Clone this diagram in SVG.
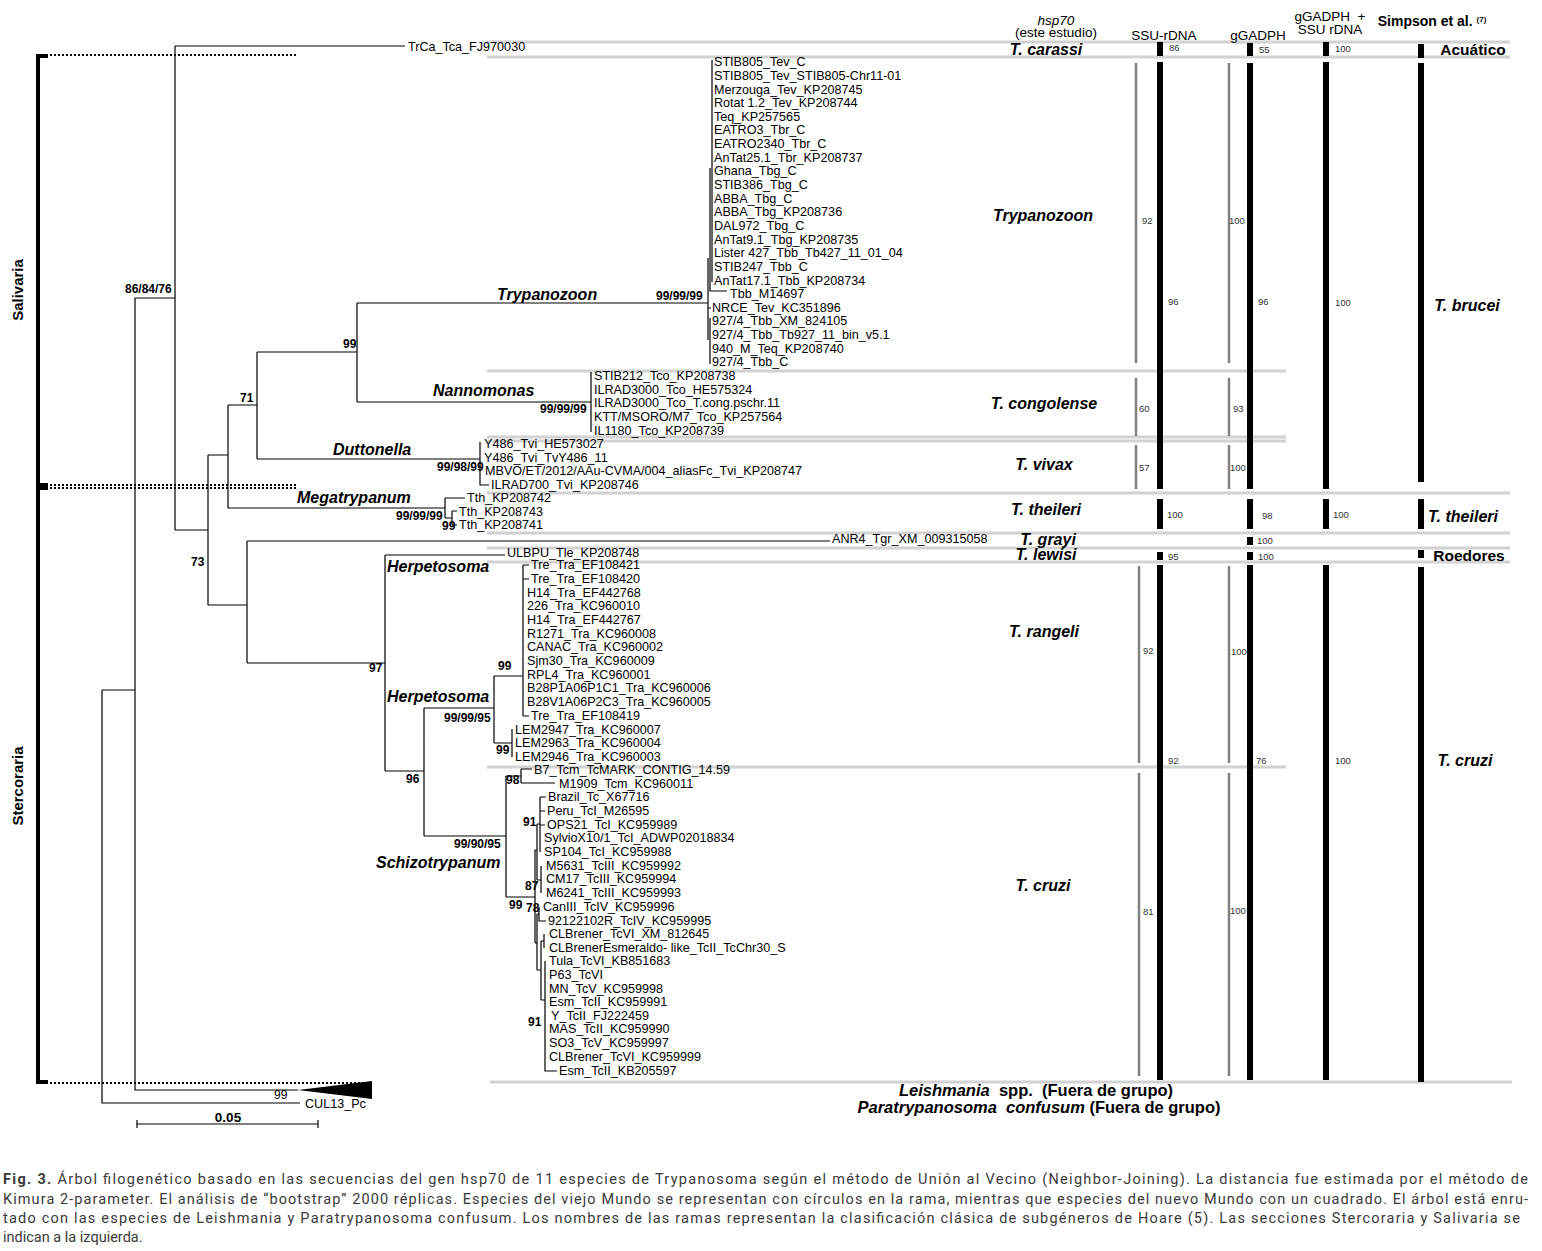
<svg xmlns="http://www.w3.org/2000/svg" width="1542" height="1251" viewBox="0 0 1542 1251">
<style>
.br{stroke:#000;stroke-width:1.2;fill:none}
.lf{font-family:"Liberation Sans",Arial,sans-serif;font-size:12.6px;fill:#000}
.bs{font-family:"Liberation Sans",Arial,sans-serif;font-size:12px;font-weight:bold;fill:#000}
.cl{font-family:"Liberation Sans",Arial,sans-serif;font-size:16px;font-weight:bold;font-style:italic;fill:#000}
.rc{font-family:"Liberation Sans",Arial,sans-serif;font-size:16px;font-weight:bold;font-style:italic;fill:#000;text-anchor:middle}
.sep{stroke:#d2d2d2;stroke-width:3}
.gb{stroke:#808080;stroke-width:2.5}
.kb{fill:#000}
.n{font-family:"Liberation Sans",Arial,sans-serif;font-size:9.5px;fill:#333}
.hd{font-family:"Liberation Sans",Arial,sans-serif;font-size:13.5px;fill:#000;text-anchor:middle}
.dot{stroke:#000;stroke-width:2;stroke-dasharray:2,2;fill:none}
.brk{stroke:#000;stroke-width:4;fill:none}
.sec{font-family:"Liberation Sans",Arial,sans-serif;font-size:15px;font-weight:bold;fill:#000;text-anchor:middle}
.cap{font-family:Roboto,"Liberation Sans",sans-serif;font-size:14.5px;fill:#3a3a3a}
</style>
<rect width="1542" height="1251" fill="#fff"/>

<g id="separators">
<line class="sep" x1="487" y1="42" x2="1510" y2="42"/>
<line class="sep" x1="487" y1="57" x2="1510" y2="57"/>
<line class="sep" x1="487" y1="371" x2="1286" y2="371"/>
<line class="sep" x1="487" y1="437" x2="1286" y2="437"/>
<line class="sep" x1="487" y1="441" x2="1286" y2="441"/>
<line class="sep" x1="487" y1="493" x2="1510" y2="493"/>
<line class="sep" x1="487" y1="533" x2="1510" y2="533"/>
<line class="sep" x1="487" y1="548" x2="1510" y2="548"/>
<line class="sep" x1="487" y1="562" x2="1510" y2="562"/>
<line class="sep" x1="487" y1="767" x2="1286" y2="767"/>
<line class="sep" x1="490" y1="1082" x2="1512" y2="1082"/>
</g>

<g id="sections">
<path class="brk" d="M48,56 H38 V485 H48"/>
<path class="brk" d="M48,488 H38 V1082 H48"/>
<path class="dot" d="M50,55 H298 M50,485 H298 M50,488 H298 M50,1083 H372"/>
<text class="sec" transform="translate(23,290) rotate(-90)">Salivaria</text>
<text class="sec" transform="translate(23,786) rotate(-90)">Stercoraria</text>
</g>

<g id="connectors" class="br">
<path d="M102,690 V1103 H300 M102,690 H135 M135,298 V1090 H298 M135,298 H175 M175,46 V530 M175,46 H405"/>
<path d="M175,530 H208 M208,455 V605 M208,455 H228 M228,405 V508 M228,405 H257 M228,508 H445"/>
<path d="M257,352 V459 M257,352 H357 M257,459 H480 M357,303 V402 M357,303 H708 M357,402 H591"/>
<path d="M708,258 V340 M712,60 V282 M710,168 V291 H727 M708,308 H711 M710,318 V364 M591,372 V432"/>
<path d="M480,442 V485 H489 M445,498 V518 M445,498 H465 M445,518 H452 M452,511 V525 M452,511 H457 M452,525 H457"/>
<path d="M208,605 H247 M247,541 V663 M247,541 H830 M247,663 H385 M385,555 V771 M385,555 H505 M385,771 H424"/>
<path d="M424,708 V836 M424,708 H494 M494,676 V743 M494,676 H523 M494,743 H512 M523,565 V716 M523,565 H529 M523,579 H529 M523,716 H529 M512,729 V757"/>
<path d="M424,836 H506 M506,776 V897 M506,776 H521 M521,769 V783 M521,769 H532 M521,783 H555 M506,897 H535"/>
<path d="M535,850 V943 M535,850 H537 M537,824 V880 M537,824 H540 M540,797 V852 M540,797 H546 M540,811 H545 M540,825 H545 M537,880 H541 M541,866 V893"/>
<path d="M535,943 H537 M537,914 V970 M537,914 H539 M539,907 V921 H546 M537,970 H541 M541,941 V1000 M541,941 H544 M544,934 V948 M541,1000 H545 M545,961 V1071 H557"/>
<path d="M137,1124 H318 M137,1120 V1128 M318,1120 V1128"/>
</g>

<g id="outgroup-leishmania">
<polygon points="298,1090 372,1081 372,1099" fill="#000"/>
<text class="bs" x="274" y="1099" style="font-weight:normal">99</text>
</g>
<g id="outgroup-paratrypanosoma">
<text class="lf" x="305" y="1108">CUL13_Pc</text>
</g>
<g id="scale">
<text class="bs" x="228" y="1122" text-anchor="middle" style="font-size:13.5px">0.05</text>
</g>

<g id="bootstrap" class="bs">
<text x="125" y="293">86/84/76</text>
<text x="343" y="348">99</text>
<text x="240" y="402">71</text>
<text x="191" y="566">73</text>
<text x="656" y="300">99/99/99</text>
<text x="540" y="413">99/99/99</text>
<text x="437" y="471">99/98/99</text>
<text x="396" y="520">99/99/99</text>
<text x="442" y="530">99</text>
<text x="369" y="672">97</text>
<text x="498" y="670">99</text>
<text x="444" y="722">99/99/95</text>
<text x="496" y="754">99</text>
<text x="406" y="783">96</text>
<text x="506" y="784">98</text>
<text x="454" y="848">99/90/95</text>
<text x="509" y="909">99</text>
<text x="523" y="826">91</text>
<text x="525" y="890">87</text>
<text x="526" y="912">78</text>
<text x="528" y="1026">91</text>
</g>

<g id="subgenera" class="cl">
<text x="497" y="300">Trypanozoon</text>
<text x="433" y="396">Nannomonas</text>
<text x="333" y="455">Duttonella</text>
<text x="297" y="503">Megatrypanum</text>
<text x="387" y="572">Herpetosoma</text>
<text x="387" y="702">Herpetosoma</text>
<text x="376" y="868">Schizotrypanum</text>
</g>

<g id="leaf-tca" class="lf"><text x="408" y="51">TrCa_Tca_FJ970030</text></g>

<g id="clade-trypanozoon" class="lf">
<text x="714" y="66">STIB805_Tev_C</text>
<text x="714" y="80">STIB805_Tev_STIB805-Chr11-01</text>
<text x="714" y="94">Merzouga_Tev_KP208745</text>
<text x="714" y="107">Rotat 1.2_Tev_KP208744</text>
<text x="714" y="121">Teq_KP257565</text>
<text x="714" y="134">EATRO3_Tbr_C</text>
<text x="714" y="148">EATRO2340_Tbr_C</text>
<text x="714" y="162">AnTat25.1_Tbr_KP208737</text>
<text x="714" y="175">Ghana_Tbg_C</text>
<text x="714" y="189">STIB386_Tbg_C</text>
<text x="714" y="203">ABBA_Tbg_C</text>
<text x="714" y="216">ABBA_Tbg_KP208736</text>
<text x="714" y="230">DAL972_Tbg_C</text>
<text x="714" y="244">AnTat9.1_Tbg_KP208735</text>
<text x="714" y="257">Lister 427_Tbb_Tb427_11_01_04</text>
<text x="714" y="271">STIB247_Tbb_C</text>
<text x="714" y="285">AnTat17.1_Tbb_KP208734</text>
<text x="730" y="298">Tbb_M14697</text>
<text x="712" y="312">NRCE_Tev_KC351896</text>
<text x="712" y="325">927/4_Tbb_XM_824105</text>
<text x="712" y="339">927/4_Tbb_Tb927_11_bin_v5.1</text>
<text x="712" y="353">940_M_Teq_KP208740</text>
<text x="712" y="366">927/4_Tbb_C</text>
</g>

<g id="clade-nannomonas" class="lf">
<text x="594" y="380">STIB212_Tco_KP208738</text>
<text x="594" y="394">ILRAD3000_Tco_HE575324</text>
<text x="594" y="407">ILRAD3000_Tco_T.cong.pschr.11</text>
<text x="594" y="421">KTT/MSORO/M7_Tco_KP257564</text>
<text x="594" y="435">IL1180_Tco_KP208739</text>
</g>

<g id="clade-duttonella" class="lf">
<text x="484" y="448">Y486_Tvi_HE573027</text>
<text x="484" y="462">Y486_Tvi_TvY486_11</text>
<text x="485" y="475">MBVO/ET/2012/AAu-CVMA/004_aliasFc_Tvi_KP208747</text>
<text x="491" y="489">ILRAD700_Tvi_KP208746</text>
</g>

<g id="clade-megatrypanum" class="lf">
<text x="467" y="502">Tth_KP208742</text>
<text x="459" y="516">Tth_KP208743</text>
<text x="459" y="529">Tth_KP208741</text>
</g>

<g id="leaf-tgr" class="lf"><text x="832" y="543">ANR4_Tgr_XM_009315058</text></g>
<g id="leaf-tle" class="lf"><text x="507" y="557">ULBPU_Tle_KP208748</text></g>

<g id="clade-rangeli" class="lf">
<text x="531" y="569">Tre_Tra_EF108421</text>
<text x="531" y="583">Tre_Tra_EF108420</text>
<text x="527" y="597">H14_Tra_EF442768</text>
<text x="527" y="610">226_Tra_KC960010</text>
<text x="527" y="624">H14_Tra_EF442767</text>
<text x="527" y="638">R1271_Tra_KC960008</text>
<text x="527" y="651">CANAC_Tra_KC960002</text>
<text x="527" y="665">Sjm30_Tra_KC960009</text>
<text x="527" y="679">RPL4_Tra_KC960001</text>
<text x="527" y="692">B28P1A06P1C1_Tra_KC960006</text>
<text x="527" y="706">B28V1A06P2C3_Tra_KC960005</text>
<text x="531" y="720">Tre_Tra_EF108419</text>
<text x="515" y="734">LEM2947_Tra_KC960007</text>
<text x="515" y="747">LEM2963_Tra_KC960004</text>
<text x="515" y="761">LEM2946_Tra_KC960003</text>
</g>

<g id="clade-cruzi" class="lf">
<text x="534" y="774">B7_Tcm_TcMARK_CONTIG_14.59</text>
<text x="559" y="788">M1909_Tcm_KC960011</text>
<text x="548" y="801">Brazil_Tc_X67716</text>
<text x="547" y="815">Peru_TcI_M26595</text>
<text x="547" y="829">OPS21_TcI_KC959989</text>
<text x="544" y="842">SylvioX10/1_TcI_ADWP02018834</text>
<text x="544" y="856">SP104_TcI_KC959988</text>
<text x="546" y="870">M5631_TcIII_KC959992</text>
<text x="546" y="883">CM17_TcIII_KC959994</text>
<text x="546" y="897">M6241_TcIII_KC959993</text>
<text x="543" y="911">CanIII_TcIV_KC959996</text>
<text x="548" y="925">92122102R_TcIV_KC959995</text>
<text x="549" y="938">CLBrener_TcVI_XM_812645</text>
<text x="549" y="952">CLBrenerEsmeraldo- like_TcII_TcChr30_S</text>
<text x="549" y="965">Tula_TcVI_KB851683</text>
<text x="549" y="979">P63_TcVI</text>
<text x="549" y="993">MN_TcV_KC959998</text>
<text x="549" y="1006">Esm_TcII_KC959991</text>
<text x="551" y="1020">Y_TcII_FJ222459</text>
<text x="549" y="1033">MAS_TcII_KC959990</text>
<text x="549" y="1047">SO3_TcV_KC959997</text>
<text x="549" y="1061">CLBrener_TcVI_KC959999</text>
<text x="559" y="1075">Esm_TcII_KB205597</text>
</g>

<g id="species-labels">
<text class="rc" x="1046" y="55">T. carassi</text>
<text class="rc" x="1043" y="221">Trypanozoon</text>
<text class="rc" x="1044" y="409">T. congolense</text>
<text class="rc" x="1044" y="470">T. vivax</text>
<text class="rc" x="1046" y="515">T. theileri</text>
<text class="rc" x="1048" y="545">T. grayi</text>
<text class="rc" x="1046" y="560">T. lewisi</text>
<text class="rc" x="1044" y="637">T. rangeli</text>
<text class="rc" x="1043" y="891">T. cruzi</text>
<text class="sec" x="1036" y="1096" style="font-size:16.5px" xml:space="preserve"><tspan font-style="italic">Leishmania</tspan>  spp.  (Fuera de grupo)</text>
<text class="sec" x="1039" y="1113" style="font-size:16.5px" xml:space="preserve"><tspan font-style="italic">Paratrypanosoma  confusum</tspan> (Fuera de grupo)</text>
</g>

<g id="headers">
<text class="hd" x="1056" y="25" font-style="italic">hsp70</text>
<text class="hd" x="1056" y="37">(este estudio)</text>
<text class="hd" x="1164" y="40">SSU-rDNA</text>
<text class="hd" x="1258" y="40">gGADPH</text>
<text class="hd" x="1330" y="21" xml:space="preserve">gGADPH  +</text>
<text class="hd" x="1330" y="34">SSU rDNA</text>
<text class="hd" x="1432" y="26" style="font-weight:bold;font-size:14px">Simpson et al. <tspan style="font-size:8px" dy="-4">(7)</tspan></text>
</g>

<g id="col-hsp70-a">
<line class="gb" x1="1136" y1="63" x2="1136" y2="363"/>
<line class="gb" x1="1136" y1="378" x2="1136" y2="436"/>
<line class="gb" x1="1136" y1="445" x2="1136" y2="489"/>
<line class="gb" x1="1139" y1="566" x2="1139" y2="763"/>
<line class="gb" x1="1139" y1="773" x2="1139" y2="1076"/>
<text class="n" x="1142" y="224">92</text>
<text class="n" x="1139" y="412">60</text>
<text class="n" x="1139" y="471">57</text>
<text class="n" x="1143" y="654">92</text>
<text class="n" x="1143" y="915">81</text>
</g>
<g id="col-hsp70-b">
<line class="gb" x1="1229" y1="63" x2="1229" y2="363"/>
<line class="gb" x1="1229" y1="378" x2="1229" y2="436"/>
<line class="gb" x1="1229" y1="445" x2="1229" y2="489"/>
<line class="gb" x1="1229" y1="566" x2="1229" y2="763"/>
<line class="gb" x1="1229" y1="773" x2="1229" y2="1076"/>
<text class="n" x="1229" y="224">100</text>
<text class="n" x="1233" y="412">93</text>
<text class="n" x="1230" y="471">100</text>
<text class="n" x="1231" y="655">100</text>
<text class="n" x="1230" y="914">100</text>
</g>
<g id="col-ssu">
<rect class="kb" x="1157" y="42" width="6" height="14"/>
<rect class="kb" x="1157" y="62" width="6" height="427"/>
<rect class="kb" x="1157" y="499" width="6" height="30"/>
<rect class="kb" x="1157" y="552" width="6" height="8"/>
<rect class="kb" x="1157" y="565" width="6" height="515"/>
<text class="n" x="1169" y="51">86</text>
<text class="n" x="1168" y="305">96</text>
<text class="n" x="1167" y="518">100</text>
<text class="n" x="1168" y="560">95</text>
<text class="n" x="1168" y="764">92</text>
</g>
<g id="col-gadph">
<rect class="kb" x="1247" y="43" width="6" height="13"/>
<rect class="kb" x="1247" y="63" width="6" height="426"/>
<rect class="kb" x="1247" y="499" width="6" height="30"/>
<rect class="kb" x="1247" y="537" width="6" height="8"/>
<rect class="kb" x="1247" y="552" width="6" height="8"/>
<rect class="kb" x="1247" y="565" width="6" height="515"/>
<text class="n" x="1259" y="53">55</text>
<text class="n" x="1258" y="305">96</text>
<text class="n" x="1262" y="519">98</text>
<text class="n" x="1257" y="544">100</text>
<text class="n" x="1258" y="560">100</text>
<text class="n" x="1256" y="764">76</text>
</g>
<g id="col-gadph-ssu">
<rect class="kb" x="1323" y="42" width="6" height="14"/>
<rect class="kb" x="1323" y="62" width="6" height="427"/>
<rect class="kb" x="1323" y="499" width="6" height="30"/>
<rect class="kb" x="1323" y="565" width="6" height="515"/>
<text class="n" x="1335" y="52">100</text>
<text class="n" x="1335" y="306">100</text>
<text class="n" x="1333" y="518">100</text>
<text class="n" x="1335" y="764">100</text>
</g>
<g id="col-simpson">
<rect class="kb" x="1418" y="44" width="6" height="14"/>
<rect class="kb" x="1418" y="63" width="6" height="419"/>
<rect class="kb" x="1418" y="499" width="6" height="30"/>
<rect class="kb" x="1418" y="550" width="6" height="8"/>
<rect class="kb" x="1418" y="567" width="6" height="515"/>
<text class="sec" x="1473" y="55" style="font-size:15.5px">Acuático</text>
<text class="rc" x="1467" y="311">T. brucei</text>
<text class="rc" x="1463" y="522">T. theileri</text>
<text class="sec" x="1469" y="561" style="font-size:15.5px">Roedores</text>
<text class="rc" x="1465" y="766">T. cruzi</text>
</g>

<g id="caption" class="cap">
<text x="3" y="1184" textLength="1525" lengthAdjust="spacing"><tspan font-weight="bold">Fig. 3.</tspan> Árbol filogenético basado en las secuencias del gen hsp70 de 11 especies de Trypanosoma según el método de Unión al Vecino (Neighbor-Joining). La distancia fue estimada por el método de</text>
<text x="3" y="1204" textLength="1525" lengthAdjust="spacing">Kimura 2-parameter. El análisis de “bootstrap” 2000 réplicas. Especies del viejo Mundo se representan con círculos en la rama, mientras que especies del nuevo Mundo con un cuadrado. El árbol está enru-</text>
<text x="3" y="1223" textLength="1517" lengthAdjust="spacing">tado con las especies de Leishmania y Paratrypanosoma confusum. Los nombres de las ramas representan la clasificación clásica de subgéneros de Hoare (5). Las secciones Stercoraria y Salivaria se</text>
<text x="3" y="1242">indican a la izquierda.</text>
</g>
</svg>
